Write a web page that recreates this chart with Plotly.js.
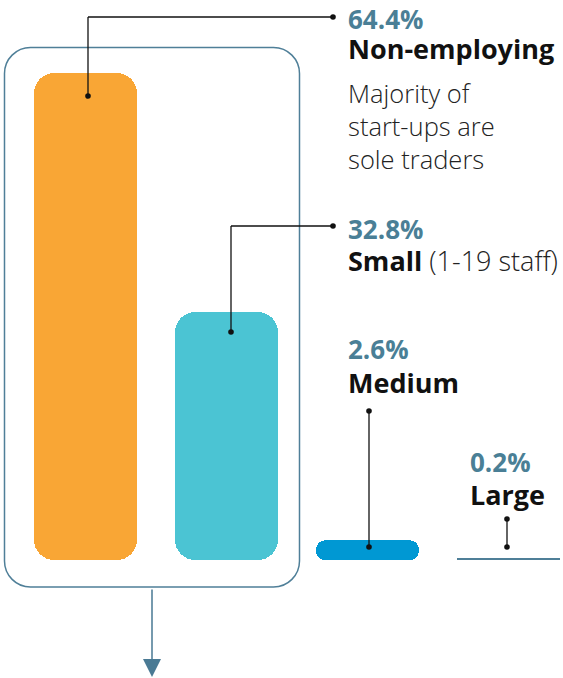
<!DOCTYPE html>
<html><head><meta charset="utf-8">
<script src="https://cdn.plot.ly/plotly-3.0.1.min.js"></script>
<style>html,body{margin:0;padding:0;background:#fff}</style>
</head><body>
<div id="chart" style="width:563px;height:678px"></div>
<script>
// ---- data ----
const categories = ["Non-employing", "Small", "Medium", "Large"];
const shares = [64.4, 32.8, 2.6, 0.2];
const shareLabels = ["64.4%", "32.8%", "2.6%", "0.2%"];
const barColors = ["#F9A635", "#4BC4D3", "#0098D3", "#4F7F98"];
const noteLines = ["Majority of", "start-ups are", "sole traders"];
const smallNote = "(1-19 staff)";

// ---- layout helpers (pixel -> paper) ----
const W = 563, H = 678;
const px = x => x / W;
const py = y => 1 - y / H;
const PS = 26;   // percentage size
const LS = 27;   // label size
const accent = "#4A7F96";
const FONT = "Open Sans, Noto Sans, sans-serif";

const xVals = categories.map((c, i) => i);
const zeroBase = shares.map(() => 0);

function barTrace(idx, radius) {
  return {
    type: "bar", x: idx.map(i => xVals[i]), y: idx.map(i => shares[i]), base: idx.map(i => zeroBase[i]),
    width: 0.73, hoverinfo: "skip", showlegend: false,
    marker: { color: idx.map(i => barColors[i]), cornerradius: radius, line: { width: 0 } }
  };
}
const traces = [barTrace([0, 1], 20), barTrace([2], 9.8), barTrace([3], 0)];

// two-line label block: percentage on top, category name below
function block(i, x, base1, pitch, extra) {
  const text = "<span style='font-size:" + PS + "px;color:" + accent + "'><b>" + shareLabels[i] + "</b></span><br>" +
    "<span style='font-size:" + LS + "px'><b>" + categories[i] + "</b>" + (extra || "") + "</span>";
  return {
    xref: "paper", yref: "paper", x: px(x), y: py(base1 - 1.069 * PS),
    xanchor: "left", yanchor: "top", align: "left", showarrow: false, text: text, borderpad: 0,
    font: { family: FONT, size: pitch / 1.3, color: "#111" }
  };
}
const DS = 25.5;
const annotations = [
  block(0, 347, 28, 30),
  { xref: "paper", yref: "paper", x: px(347), y: py(102.5 - 1.069 * DS), xanchor: "left", yanchor: "top",
    align: "left", showarrow: false, borderpad: 0, text: noteLines.join("<br>"),
    font: { family: FONT, size: DS, color: "#222", weight: 300 } },
  block(1, 347, 238, 32, " <span style='font-weight:300;color:#222'>" + smallNote + "</span>"),
  block(2, 347, 357.8, 34.3),
  block(3, 469, 471.2, 33),
  // downward arrow below the box
  { xref: "paper", yref: "paper", x: px(152), y: py(677), ax: px(152), ay: py(588),
    axref: "paper", ayref: "paper", showarrow: true, text: "",
    arrowhead: 2, arrowsize: 2.4, arrowwidth: 1.5, arrowcolor: "#4A7A94", standoff: 0 }
];

// rounded rectangle path in paper coords
function roundRect(x0, y0, x1, y1, r) {
  const k = 0.5523 * r;
  const P = (x, y) => px(x).toFixed(5) + "," + py(y).toFixed(5);
  return "M" + P(x0 + r, y0) + " L" + P(x1 - r, y0) +
    " C" + P(x1 - r + k, y0) + " " + P(x1, y0 + r - k) + " " + P(x1, y0 + r) +
    " L" + P(x1, y1 - r) +
    " C" + P(x1, y1 - r + k) + " " + P(x1 - r + k, y1) + " " + P(x1 - r, y1) +
    " L" + P(x0 + r, y1) +
    " C" + P(x0 + r - k, y1) + " " + P(x0, y1 - r + k) + " " + P(x0, y1 - r) +
    " L" + P(x0, y0 + r) +
    " C" + P(x0, y0 + r - k) + " " + P(x0 + r - k, y0) + " " + P(x0 + r, y0) + " Z";
}

function seg(x0, y0, x1, y1, color, w) {
  return { type: "line", xref: "paper", yref: "paper", x0: px(x0), y0: py(y0), x1: px(x1), y1: py(y1),
    line: { color: color || "#111", width: w || 1.3 } };
}
function dot(x, y) {
  const r = 2.8;
  return { type: "circle", xref: "paper", yref: "paper", x0: px(x - r), x1: px(x + r), y0: py(y + r), y1: py(y - r),
    fillcolor: "#111", line: { width: 0 } };
}

const shapes = [
  { type: "path", xref: "paper", yref: "paper", path: roundRect(4.5, 47.5, 299.5, 587, 26),
    line: { color: "#4F7F98", width: 1.5 }, fillcolor: "rgba(0,0,0,0)", layer: "below" },
  seg(88, 96, 88, 17), seg(88, 17, 333, 17), dot(88, 96), dot(333, 17),
  seg(231, 332, 231, 226), seg(231, 226, 333, 226), dot(231, 332), dot(333, 226),
  seg(369, 411, 369, 547), dot(369, 411), dot(369, 547),
  seg(507, 519, 507, 547), dot(507, 519), dot(507, 547)
];

const layout = {
  width: W, height: H,
  margin: { l: 0, r: 0, t: 0, b: 0 },
  paper_bgcolor: "#fff", plot_bgcolor: "#fff",
  xaxis: { range: [-85.5 / 141, (W - 85.5) / 141], visible: false, fixedrange: true },
  yaxis: { range: [-(H - 560) / 7.56, 560 / 7.56], visible: false, fixedrange: true },
  barmode: "overlay", bargap: 0, annotations: annotations, shapes: shapes, showlegend: false
};

Plotly.newPlot("chart", traces, layout, { displayModeBar: false, staticPlot: true });
</script>
</body></html>
